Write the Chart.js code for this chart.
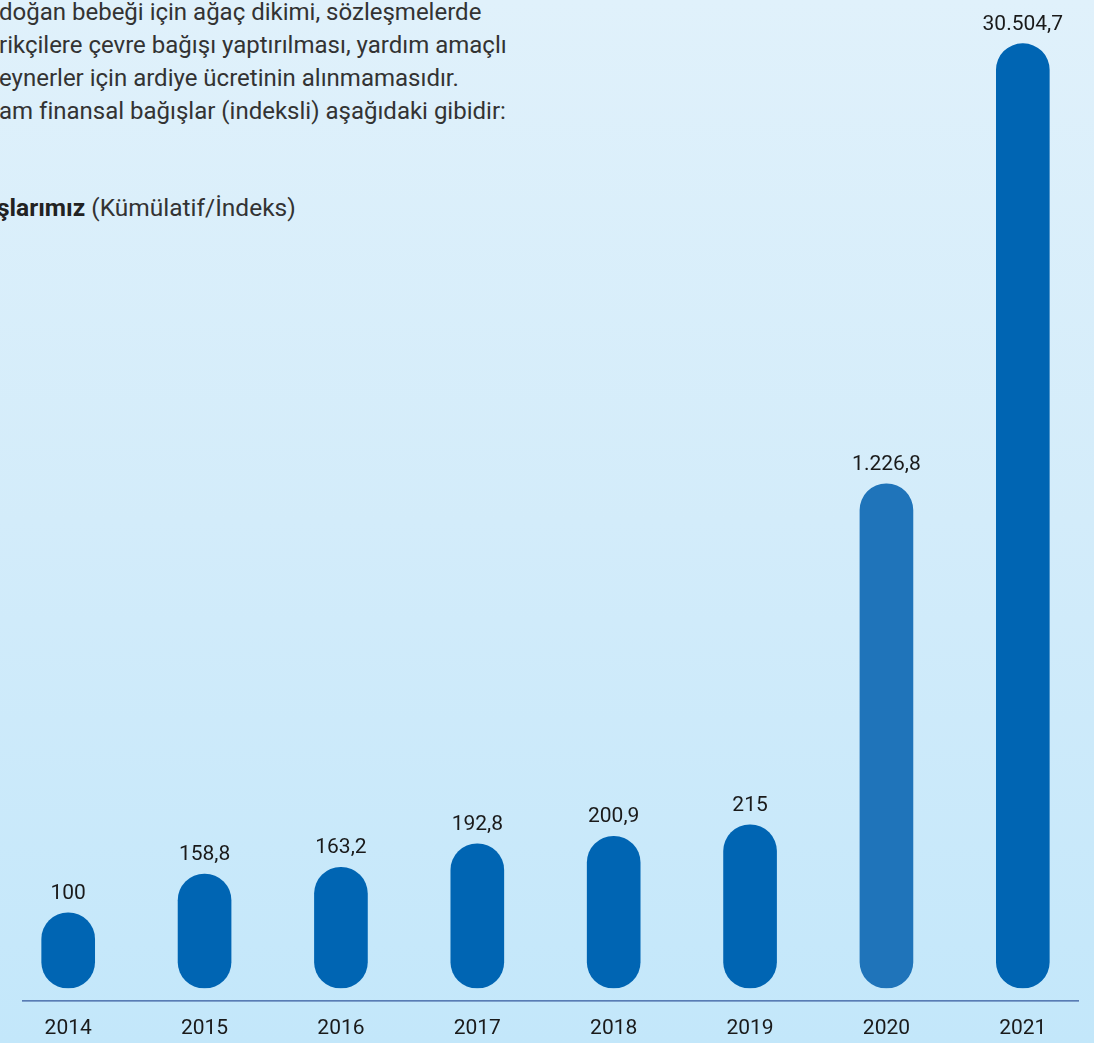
<!DOCTYPE html>
<html lang="tr">
<head>
<meta charset="utf-8">
<title>Bağışlarımız (Kümülatif/İndeks)</title>
<script src="https://cdn.jsdelivr.net/npm/chart.js@4.4.1/dist/chart.umd.min.js"></script>
<style>
  html, body { margin: 0; padding: 0; }
  body {
    width: 1094px; height: 1043px; overflow: hidden; position: relative;
    background: linear-gradient(to bottom, #e0f1fb 0%, #d3ecfa 50%, #c3e7fa 100%);
    font-family: Roboto, "Noto Sans", sans-serif;
  }
  .intro { position: absolute; left: 0; top: -4px; color: #333; font-size: 24px; line-height: 33px; white-space: nowrap; }
  .intro div { margin-left: -1px; }
  .subtitle { position: absolute; left: -3px; top: 193px; color: #333; font-size: 24.5px; white-space: nowrap; }
  .subtitle b { color: #222; }
  #chart { position: absolute; left: 0; top: 0; }
</style>
</head>
<body>
<div class="intro">
  <div>doğan bebeği için ağaç dikimi, sözleşmelerde</div>
  <div>rikçilere çevre bağışı yaptırılması, yardım amaçlı</div>
  <div>eynerler için ardiye ücretinin alınmamasıdır.</div>
  <div>am finansal bağışlar (indeksli) aşağıdaki gibidir:</div>
</div>
<div class="subtitle"><b>şlarımız</b> (Kümülatif/İndeks)</div>
<canvas id="chart" width="1094" height="1043"></canvas>
<script>
// data
const years = ["2014", "2015", "2016", "2017", "2018", "2019", "2020", "2021"];
// cumulative donation index printed above each bar
const indexValues = [100, 158.8, 163.2, 192.8, 200.9, 215, 1226.8, 30504.7];
// bar lengths as drawn in the picture (not to scale), % of the tallest bar
const drawnLengths = [8.0, 12.1, 12.8, 15.3, 16.1, 17.3, 53.4, 100];

const BAR_BLUE = "#0065b3";
const BAR_BLUE_LIGHT = "#1f74ba";
const TEXT_DARK = "#1a1a1a";

// Turkish number format: 30504.7 -> "30.504,7"
function formatTr(v) {
  const parts = String(v).split(".");
  const intPart = parts[0].replace(/\B(?=(\d{3})+(?!\d))/g, ".");
  return parts[1] ? intPart + "," + parts[1] : intPart;
}

// value labels above bars
const valueLabels = {
  id: "valueLabels",
  afterDatasetsDraw(chart) {
    const ctx = chart.ctx;
    const meta = chart.getDatasetMeta(0);
    ctx.save();
    ctx.font = "21px Roboto, 'Noto Sans', sans-serif";
    ctx.fillStyle = TEXT_DARK;
    ctx.textAlign = "center";
    ctx.textBaseline = "alphabetic";
    meta.data.forEach((bar, i) => {
      ctx.fillText(formatTr(indexValues[i]), bar.x, bar.y - 14);
    });
    ctx.restore();
  }
};

// thin baseline under the bars
const baseLine = {
  id: "baseLine",
  beforeDatasetsDraw(chart) {
    const { ctx, chartArea } = chart;
    const y = chartArea.bottom + 12.5;
    ctx.save();
    ctx.strokeStyle = "#35599c";
    ctx.lineWidth = 1.3;
    ctx.beginPath();
    ctx.moveTo(chartArea.left + 22, y);
    ctx.lineTo(chartArea.right - 12, y);
    ctx.stroke();
    ctx.restore();
  }
};

new Chart(document.getElementById("chart"), {
  type: "bar",
  data: {
    labels: years,
    datasets: [{
      data: drawnLengths,
      backgroundColor: years.map(y => y === "2020" ? BAR_BLUE_LIGHT : BAR_BLUE),
      borderRadius: 27,
      borderSkipped: false,
      barThickness: 53
    }]
  },
  options: {
    responsive: false,
    animation: false,
    layout: { padding: { top: 36.7, left: 0, right: 3, bottom: -26.5 } },
    plugins: {
      legend: { display: false },
      tooltip: { enabled: false }
    },
    scales: {
      x: {
        offset: true,
        grid: { display: false, drawTicks: false },
        border: { display: false },
        ticks: {
          color: TEXT_DARK,
          font: { family: "Roboto, 'Noto Sans', sans-serif", size: 21 },
          padding: 28
        }
      },
      y: {
        display: false,
        min: 0,
        max: 100.74
      }
    }
  },
  plugins: [baseLine, valueLabels]
});
</script>
</body>
</html>
